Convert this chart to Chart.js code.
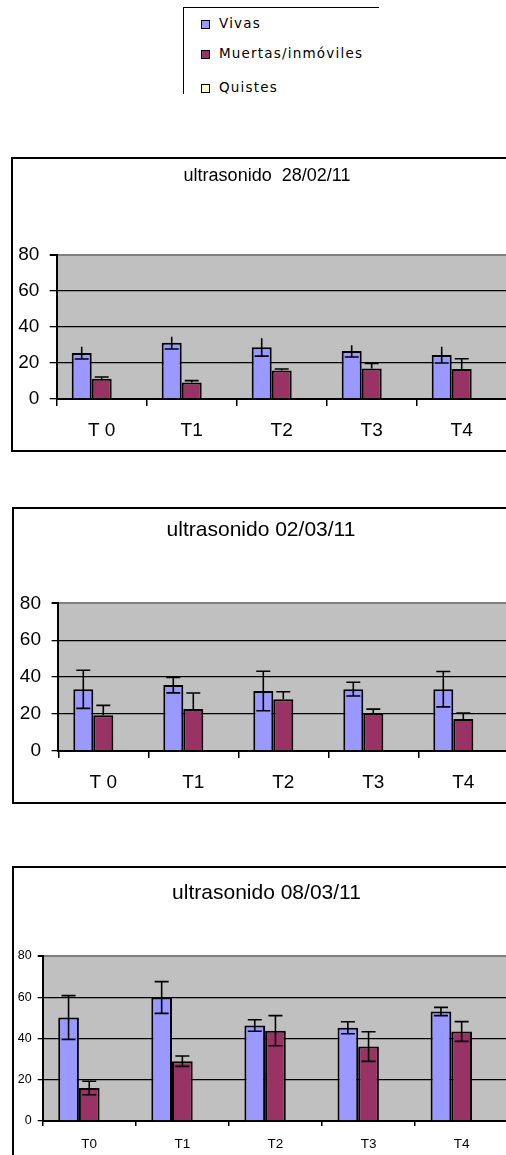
<!DOCTYPE html>
<html lang="es">
<head>
<meta charset="UTF-8">
<title>ultrasonido</title>
<script src="https://cdn.jsdelivr.net/npm/chart.js"></script>
<style>
  html, body { margin: 0; padding: 0; background: #fff; overflow: hidden; }
  #page { position: relative; width: 506px; height: 1155px; overflow: hidden; }
  .panel { position: absolute; width: 640px; border: 2px solid #000; box-sizing: border-box; }
  canvas { position: absolute; left: 0; }
  #legend { position: absolute; left: 183px; top: 7px; width: 195px; height: 86px;
            border-left: 1.5px solid #000; border-top: 1.5px solid #000;
            font-family: "DejaVu Sans", sans-serif; font-size: 13.5px; letter-spacing: 1.2px; color: #000; }
  .item { position: absolute; left: 17px; height: 16px; line-height: 16px; white-space: nowrap; }
  .box { display: inline-block; width: 7px; height: 7px; border: 1px solid #000; margin-right: 9px; vertical-align: -1px; }
</style>
</head>
<body>
<div id="page">
  <div id="legend"></div>
  <div class="panel" style="left:11px; top:157px; height:295px;"></div>
  <div class="panel" style="left:12px; top:507px; height:297px;"></div>
  <div class="panel" style="left:12px; top:866px; height:400px;"></div>
  <canvas id="c1" width="560" height="291" style="top:160px"></canvas>
  <canvas id="c2" width="560" height="295" style="top:509px"></canvas>
  <canvas id="c3" width="560" height="287" style="top:868px"></canvas>
</div>
<script>
// series and categories
const seriesNames = ['Vivas', 'Muertas/inmóviles', 'Quistes'];
const catsA = ['T 0', 'T1', 'T2', 'T3', 'T4'];
const catsB = ['T0', 'T1', 'T2', 'T3', 'T4'];
const yTicks = [0, 20, 40, 60, 80];

// ultrasonido 28/02/11
const vivas1 = [25.6, 31.2, 28.8, 26.6, 24.5];
const vivasErr1 = [3.4, 3.4, 5.0, 3.3, 4.5];
const muertas1 = [11.3, 9.1, 15.8, 16.9, 16.7];
const muertasErr1 = [0.9, 1.1, 0.9, 2.9, 5.7];
const quistes1 = [0, 0, 0, 0, 0];

// ultrasonido 02/03/11
const vivas2 = [33.4, 35.7, 32.5, 33.5, 33.5];
const vivasErr2 = [10.3, 4.2, 10.7, 3.7, 9.6];
const muertas2 = [19.3, 22.7, 28.0, 20.6, 17.3];
const muertasErr2 = [5.4, 8.7, 4.1, 2.1, 3.3];
const quistes2 = [0, 0, 0, 0, 0];

// ultrasonido 08/03/11
const vivas3 = [50.2, 59.9, 46.3, 45.2, 53.1];
const vivasErr3 = [10.6, 7.7, 2.8, 2.9, 2.0];
const muertas3 = [16.0, 29.0, 43.8, 36.1, 43.4];
const muertasErr3 = [3.3, 2.5, 7.3, 7.2, 4.8];
const quistes3 = [0, 0, 0, 0, 0];

const colors = ['#9999FF', '#993366', '#FFFFCC'];
const FONT = '"Liberation Sans", Arial, sans-serif';

// legend (html)
const legendEl = document.getElementById('legend');
const legendY = [7, 37, 71];
seriesNames.forEach((name, i) => {
    const d = document.createElement('div');
    d.className = 'item';
    d.style.top = legendY[i] + 'px';
    d.innerHTML = '<span class="box" style="background:' + colors[i] + '"></span>';
    d.appendChild(document.createTextNode(name));
    legendEl.appendChild(d);
});

// grey plot background
const plotBg = {
    id: 'plotBg',
    beforeDraw(chart) {
        const a = chart.chartArea, ctx = chart.ctx;
        ctx.save();
        ctx.fillStyle = '#C0C0C0';
        ctx.fillRect(a.left, a.top, a.right - a.left, a.bottom - a.top);
        ctx.restore();
    }
};

// error bars: mode 'both' = caps at both ends, 'lowcap' = cap at bottom only, 'plus' = upper half only
const errorBars = {
    id: 'errorBars',
    afterDatasetsDraw(chart) {
        const ctx = chart.ctx, y = chart.scales.y;
        ctx.save();
        ctx.strokeStyle = '#000';
        ctx.lineWidth = 1.6;
        chart.data.datasets.forEach((ds, di) => {
            if (!ds.errors) return;
            chart.getDatasetMeta(di).data.forEach((bar, i) => {
                const v = ds.data[i], e = ds.errors[i], x = bar.x;
                const hi = y.getPixelForValue(v + e);
                const lo = y.getPixelForValue(ds.errMode === 'plus' ? v : v - e);
                ctx.beginPath();
                ctx.moveTo(x, hi); ctx.lineTo(x, lo);
                if (ds.errMode !== 'lowcap') { ctx.moveTo(x - 7, hi); ctx.lineTo(x + 7, hi); }
                if (ds.errMode !== 'plus') { ctx.moveTo(x - 7, lo); ctx.lineTo(x + 7, lo); }
                ctx.stroke();
            });
        });
        ctx.restore();
    }
};

function makeChart(id, L, cats, series, errs, modes) {
    const canvas = document.getElementById(id);
    const top = parseFloat(canvas.style.top);
    const W = canvas.width;
    const lh = L.titleSize * 1.2;
    const titleTop = L.titleY - top - lh / 2;
    const titleBottom = L.plotTop - top - titleTop - lh;
    const xHeight = top + canvas.height - L.plotBottom;
    const xPad = L.labelY - L.plotBottom - L.xTick - 0.6 * L.xSize;

    // the title sits a bit right of the canvas centre in the original
    const titleShift = {
        id: 'titleShift',
        afterLayout(chart) {
            const t = chart.titleBlock;
            const d = L.titleX - (t.left + t.right) / 2;
            t.left += d;
            t.right += d;
        }
    };

    return new Chart(canvas, {
        type: 'bar',
        data: {
            labels: cats,
            datasets: series.map((d, i) => ({
                label: seriesNames[i],
                data: d,
                errors: errs[i],
                errMode: modes[i],
                backgroundColor: colors[i],
                borderColor: '#000',
                borderWidth: 2,
                categoryPercentage: 2 / 3,
                barPercentage: 1.0
            }))
        },
        options: {
            responsive: false,
            animation: false,
            layout: { padding: { left: 0, right: W - L.right, top: 0, bottom: 0 } },
            plugins: {
                legend: { display: false },
                tooltip: { enabled: false },
                title: {
                    display: true,
                    text: L.title,
                    color: '#000',
                    font: { family: FONT, size: L.titleSize, weight: 'normal' },
                    padding: { top: titleTop, bottom: titleBottom }
                }
            },
            scales: {
                x: {
                    afterFit: s => { s.height = xHeight; },
                    grid: { offset: true, drawOnChartArea: false, color: '#000', lineWidth: 1.5, tickLength: L.xTick },
                    border: { color: '#000', width: 2 },
                    ticks: { color: '#000', padding: xPad, font: { family: FONT, size: L.xSize } }
                },
                y: {
                    min: 0, max: 80,
                    afterFit: s => { s.width = L.left; },
                    afterBuildTicks: s => { s.ticks = yTicks.map(v => ({ value: v })); },
                    grid: {
                        color: c => c.tick && c.tick.value === 80 ? '#808080' : '#000',
                        lineWidth: c => c.tick && c.tick.value === 80 ? 2 : 1.3,
                        tickColor: '#000',
                        tickLength: L.yTick
                    },
                    border: { color: '#000', width: 2 },
                    ticks: { color: '#000', padding: L.yPad, font: { family: FONT, size: L.ySize } }
                }
            }
        },
        plugins: [plotBg, errorBars, titleShift]
    });
}

makeChart('c1', {
    title: 'ultrasonido  28/02/11', titleSize: 18, titleX: 267, titleY: 176,
    left: 56.7, right: 506.7, plotTop: 255, plotBottom: 399,
    labelY: 430.7, xTick: 7, xSize: 19, yTick: 7, yPad: 10.4, ySize: 19
}, catsA, [vivas1, muertas1, quistes1], [vivasErr1, muertasErr1, null], ['lowcap', 'plus', null]);

makeChart('c2', {
    title: 'ultrasonido 02/03/11', titleSize: 21, titleX: 261, titleY: 530,
    left: 58.3, right: 508.3, plotTop: 603.3, plotBottom: 751,
    labelY: 782.7, xTick: 7, xSize: 19, yTick: 6.7, yPad: 10.6, ySize: 19
}, catsA, [vivas2, muertas2, quistes2], [vivasErr2, muertasErr2, null], ['both', 'plus', null]);

makeChart('c3', {
    title: 'ultrasonido 08/03/11', titleSize: 21, titleX: 266.5, titleY: 893.3,
    left: 42.7, right: 508.2, plotTop: 956, plotBottom: 1121,
    labelY: 1144, xTick: 5, xSize: 13.5, yTick: 5, yPad: 6, ySize: 12.5
}, catsB, [vivas3, muertas3, quistes3], [vivasErr3, muertasErr3, null], ['both', 'both', null]);
</script>
</body>
</html>
